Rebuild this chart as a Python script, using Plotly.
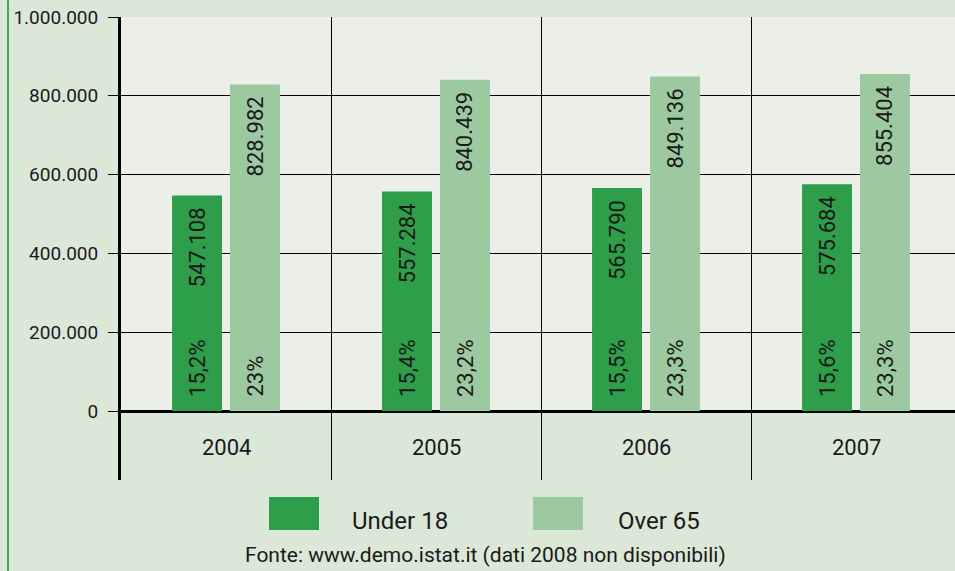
import plotly.graph_objects as go

# ---- data ----
years = ["2004", "2005", "2006", "2007"]
under18 = [547108, 557284, 565790, 575684]
over65 = [828982, 840439, 849136, 855404]
under18_pct = ["15,2%", "15,4%", "15,5%", "15,6%"]
over65_pct = ["23%", "23,2%", "23,3%", "23,3%"]
series_names = ["Under 18", "Over 65"]
y_tickvals = [0, 200000, 400000, 600000, 800000, 1000000]
y_ticktext = ["0", "200.000", "400.000", "600.000", "800.000", "1.000.000"]
source_text = "Fonte: www.demo.istat.it (dati 2008 non disponibili)"

# ---- style ----
C_UNDER = "#2e9e4b"
C_OVER = "#9dc9a0"
PAPER_BG = "#dbe7d7"
PLOT_BG = "#ecefe8"
BORDER = "#3fa95a"
TXT = "#1a1a1a"
FONT = "Roboto"

W, H = 955, 571
ML, MR, MT, MB = 121, 0, 17, 91
PW = W - ML - MR
PH = H - MT - MB
UNIT_PX = 210.0
YMAX = 1000000
ZERO_PX = 411
YMIN = -(MT + PH - ZERO_PX) / (ZERO_PX - MT) * YMAX

def px_x(px):
    return (px - ML) / PW

def px_y(py):
    return (H - MB - py) / PH

x = list(range(len(years)))
half = 29 / UNIT_PX

fig = go.Figure()
fig.add_trace(go.Bar(x=x, y=under18, name=series_names[0], marker_color=C_UNDER,
                     marker_line_width=0, showlegend=False, hoverinfo="skip"))
fig.add_trace(go.Bar(x=x, y=over65, name=series_names[1], marker_color=C_OVER,
                     marker_line_width=0, showlegend=False, hoverinfo="skip"))

ann = []
shapes = []
# light plot background above zero
shapes.append(dict(type="rect", xref="paper", yref="y", x0=0, x1=1, y0=0, y1=YMAX,
                   fillcolor=PLOT_BG, line_width=0, layer="below"))
# left green border
shapes.append(dict(type="line", xref="paper", yref="paper", x0=px_x(8), x1=px_x(8),
                   y0=px_y(0), y1=px_y(H), line=dict(color=BORDER, width=2)))

bar_font = dict(family=FONT, size=22, color=TXT)
for i in x:
    for xs, v, p in ((-half, under18[i], under18_pct[i]), (half, over65[i], over65_pct[i])):
        ann.append(dict(x=i + xs, y=v, xref="x", yref="y", text=f"{v:,}".replace(",", "."),
                        textangle=-90, showarrow=False, yanchor="top", yshift=-10,
                        font=bar_font))
        ann.append(dict(x=i + xs, y=0, xref="x", yref="y", text=p,
                        textangle=-90, showarrow=False, yanchor="bottom", yshift=12,
                        font=bar_font))
    ann.append(dict(x=i, y=YMIN * 0.53, xref="x", yref="y", text=years[i], showarrow=False,
                    font=dict(family=FONT, size=22, color=TXT)))

# legend (custom swatches)
leg = [(269, C_UNDER, series_names[0], 350), (533, C_OVER, series_names[1], 616)]
for sx, col, name, tx in leg:
    shapes.append(dict(type="rect", xref="paper", yref="paper", x0=px_x(sx), x1=px_x(sx + 50),
                       y0=px_y(530), y1=px_y(497), fillcolor=col, line_width=0))
    ann.append(dict(x=px_x(tx), y=px_y(521), xref="paper", yref="paper", text=name,
                    showarrow=False, xanchor="left", yanchor="middle",
                    font=dict(family=FONT, size=24, color=TXT)))

ann.append(dict(x=px_x(485), y=px_y(555), xref="paper", yref="paper", text=source_text,
                showarrow=False, xanchor="center", yanchor="middle",
                font=dict(family=FONT, size=21, color=TXT)))

fig.update_layout(
    width=W, height=H,
    margin=dict(l=ML, r=MR, t=MT, b=MB, pad=0),
    paper_bgcolor=PAPER_BG, plot_bgcolor=PAPER_BG,
    barmode="group", bargap=0.448, bargroupgap=0.138,
    showlegend=False, hovermode=False,
    annotations=ann, shapes=shapes,
    font=dict(family=FONT, color=TXT),
)
fig.update_xaxes(range=[-0.5, -0.5 + PW / UNIT_PX], tickvals=[0.5, 1.5, 2.5],
                 showticklabels=False, ticks="", showgrid=True, gridcolor="black",
                 gridwidth=1, zeroline=False, showline=False, fixedrange=True)
fig.update_yaxes(range=[YMIN, YMAX], tickvals=y_tickvals, ticktext=y_ticktext,
                 showgrid=True, gridcolor="black", gridwidth=1,
                 zeroline=True, zerolinecolor="black", zerolinewidth=3,
                 showline=True, linecolor="black", linewidth=3,
                 ticks="outside", ticklen=10, tickcolor="black", tickwidth=1,
                 ticklabelstandoff=6,
                 tickfont=dict(family=FONT, size=19, color=TXT), fixedrange=True)

fig.write_html("out.html", config={"displayModeBar": False, "staticPlot": True},
               post_script="document.body.style.margin='0';document.body.style.overflow='hidden';")
